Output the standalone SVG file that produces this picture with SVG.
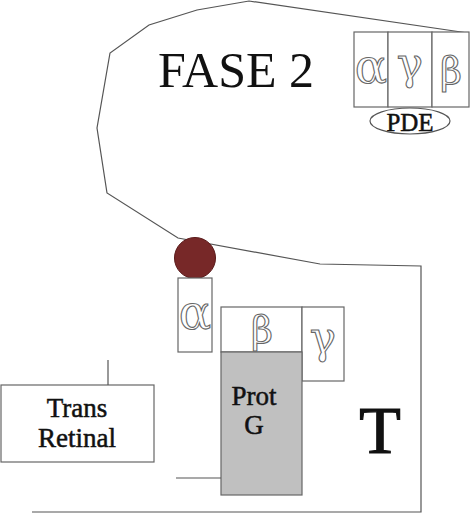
<svg xmlns="http://www.w3.org/2000/svg" width="470" height="514" viewBox="0 0 470 514">
<style>
.ln{fill:none;stroke:#555;stroke-width:1.2}
.bx{fill:#fff;stroke:#666;stroke-width:1.2}
.gk{font-family:"DejaVu Serif","Liberation Serif",serif;fill:#fff;stroke:#666;stroke-width:1.1;text-anchor:middle}
.tx{font-family:"Liberation Serif","Times New Roman",serif;fill:#111;text-anchor:middle}
.sb{stroke:#111;stroke-width:0.5}
</style>
<rect width="470" height="514" fill="#fff"/>
<g id="outline">
<polyline class="ln" points="468,33 249,1 197,10 149,25 110,53 97,128 107,193 178,238 320,264 421,266 421,512 32,512"/>
</g>
<g id="fase2"><text class="tx" x="236" y="87" font-size="50">FASE 2</text></g>
<g id="pde">
<rect class="bx" x="354" y="32" width="34" height="75"/>
<rect class="bx" x="388" y="32" width="44" height="75"/>
<rect class="bx" x="432" y="32" width="37" height="75"/>
<text class="gk" x="371" y="83" font-size="48">α</text>
<text class="gk" x="410" y="79" font-size="44">γ</text>
<text class="gk" x="451" y="84" font-size="38">β</text>
<ellipse cx="410" cy="121" rx="40" ry="13" fill="#fff" stroke="#555" stroke-width="1.2"/>
<text class="tx sb" x="410" y="131" font-size="25">PDE</text>
</g>
<g id="ligand"><circle cx="195" cy="258" r="20.5" fill="#772828" stroke="#5a1a1a" stroke-width="1"/></g>
<g id="alpha">
<rect class="bx" x="178" y="278" width="34" height="74"/>
<text class="gk" x="195" y="329" font-size="48">α</text>
</g>
<g id="beta">
<rect class="bx" x="221" y="307" width="81" height="45"/>
<text class="gk" x="262" y="343" font-size="38">β</text>
</g>
<g id="gamma">
<rect class="bx" x="302" y="307" width="42" height="74"/>
<text class="gk" x="323" y="353" font-size="44">γ</text>
</g>
<g id="protg">
<rect x="221" y="352" width="81" height="143" fill="#c0c0c0" stroke="#666" stroke-width="1.2"/>
<text class="tx sb" x="254" y="405" font-size="27">Prot</text>
<text class="tx sb" x="254" y="434" font-size="27">G</text>
</g>
<g id="transretinal">
<rect class="bx" x="1" y="385" width="153" height="77"/>
<text class="tx sb" x="77" y="417" font-size="27">Trans</text>
<text class="tx sb" x="77" y="447" font-size="27">Retinal</text>
</g>
<g id="T"><text class="tx" x="380" y="453" font-size="68" stroke="#111" stroke-width="1.2">T</text></g>
<g id="connectors">
<line class="ln" x1="108" y1="360" x2="108" y2="385"/>
<line class="ln" x1="176" y1="478" x2="221" y2="478"/>
</g>
</svg>
